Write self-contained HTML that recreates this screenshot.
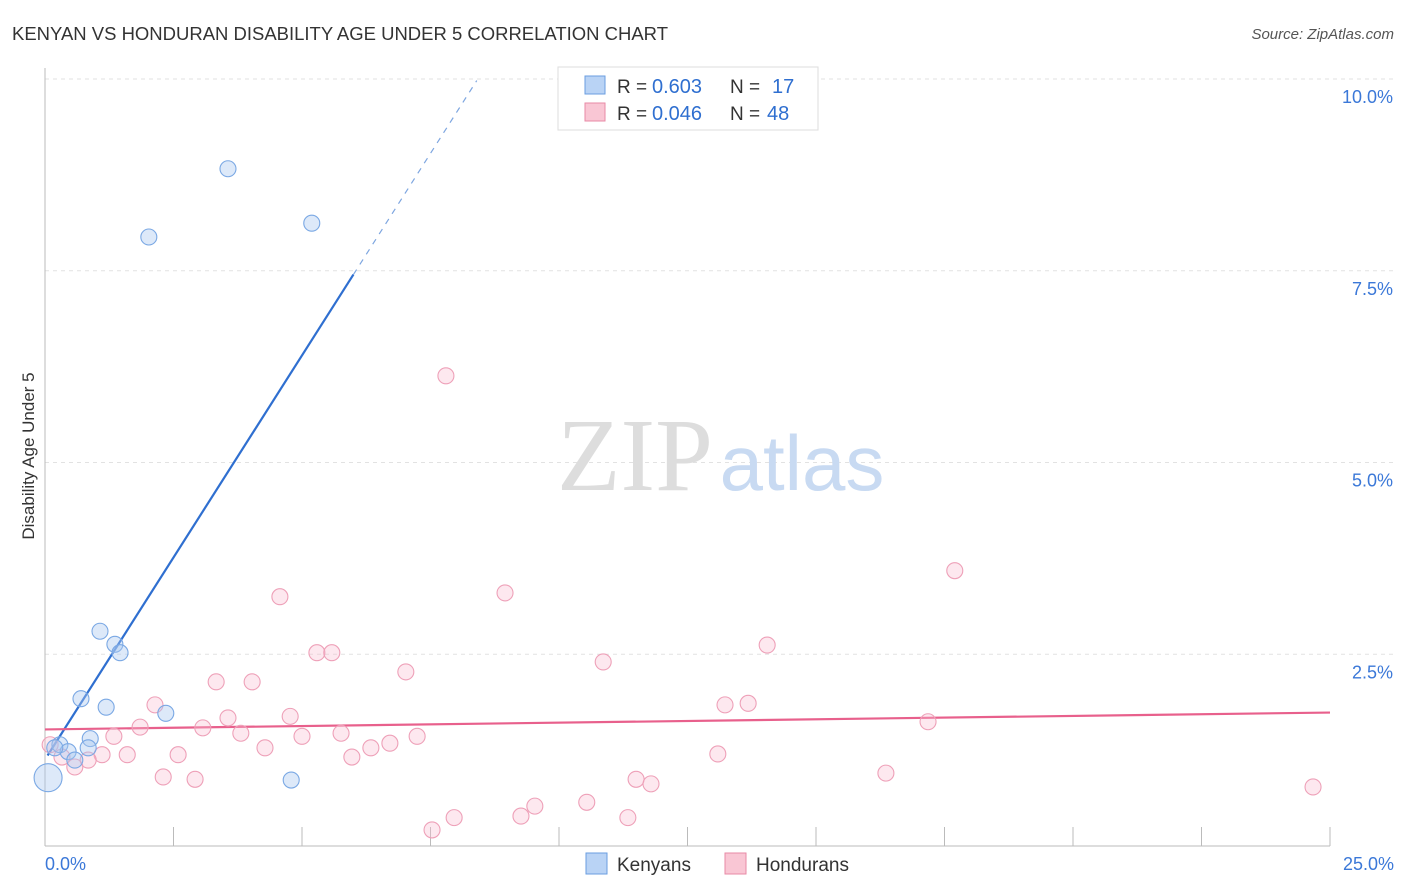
<!DOCTYPE html>
<html><head><meta charset="utf-8"><style>
body{margin:0;background:#fff;font-family:"Liberation Sans",sans-serif;}
svg{display:block}
</style></head><body>
<svg id="chart" width="1406" height="892">
<text x="12" y="40" font-size="18" fill="#333" textLength="656" lengthAdjust="spacingAndGlyphs">KENYAN VS HONDURAN DISABILITY AGE UNDER 5 CORRELATION CHART</text>
<text x="1394" y="39" font-size="15" fill="#555" font-style="italic" text-anchor="end">Source: ZipAtlas.com</text>
<text x="34" y="456" font-size="17" fill="#333" transform="rotate(-90 34 456)" text-anchor="middle">Disability Age Under 5</text>
<g id="grid"></g>
<g id="watermark">
<text x="635" y="490" font-size="104" fill="#ddd" font-family="Liberation Serif,serif" text-anchor="middle">ZIP</text>
<text x="802" y="490" font-size="78" fill="#c8daf2" text-anchor="middle">atlas</text>
</g>
<g id="lines"></g>
<g id="points"></g>
<g>
<rect x="558" y="67" width="260" height="63" fill="#fff" stroke="#ddd"/>
<rect x="585" y="76" width="20" height="18" fill="#b9d3f5" stroke="#6a9ee0"/>
<rect x="585" y="103" width="20" height="18" fill="#f9c6d4" stroke="#e88aa6"/>
<text x="617" y="93" font-size="19" fill="#333">R =</text>
<text x="652" y="93" font-size="20" fill="#2f6fd0">0.603</text>
<text x="730" y="93" font-size="19" fill="#333">N =</text>
<text x="772" y="93" font-size="20" fill="#2f6fd0">17</text>
<text x="617" y="120" font-size="19" fill="#333">R =</text>
<text x="652" y="120" font-size="20" fill="#2f6fd0">0.046</text>
<text x="730" y="120" font-size="19" fill="#333">N =</text>
<text x="767" y="120" font-size="20" fill="#2f6fd0">48</text>
</g>
<g>
<rect x="586" y="853" width="21" height="21" fill="#b9d3f5" stroke="#6a9ee0"/>
<text x="617" y="871" font-size="19" fill="#333">Kenyans</text>
<rect x="725" y="853" width="21" height="21" fill="#f9c6d4" stroke="#e88aa6"/>
<text x="756" y="871" font-size="19" fill="#333">Hondurans</text>
</g>
</svg>
<script>
const NS="http://www.w3.org/2000/svg";
const xTickLabels=["0.0%","25.0%"];
const yTicks=[2.5,5,7.5,10];
const yTickLabels=["2.5%","5.0%","7.5%","10.0%"];
const kenX=[3.56,2.02,5.19,1.07,1.36,1.46,0.70,1.19,2.35,0.88,0.84,0.29,0.45,0.58,4.79,0.06,0.19];
const kenY=[8.83,7.94,8.12,2.80,2.63,2.52,1.92,1.81,1.73,1.40,1.28,1.32,1.23,1.12,0.86,0.89,1.28];
const honX=[7.80,17.70,4.57,8.95,14.05,10.86,5.29,5.58,7.02,3.33,4.03,2.14,13.23,13.68,4.77,3.56,1.85,3.07,17.18,3.81,1.34,5.00,5.76,6.71,7.24,6.34,4.28,2.59,1.60,1.11,5.97,13.09,0.84,0.33,0.58,2.30,2.92,16.36,11.50,11.79,24.67,9.53,10.54,9.26,7.96,11.34,7.53,0.10];
const honY=[6.13,3.59,3.25,3.30,2.62,2.40,2.52,2.52,2.27,2.14,2.14,1.84,1.84,1.86,1.69,1.67,1.55,1.54,1.62,1.47,1.43,1.43,1.47,1.34,1.43,1.28,1.28,1.19,1.19,1.19,1.16,1.20,1.12,1.16,1.03,0.90,0.87,0.95,0.87,0.81,0.77,0.52,0.57,0.39,0.37,0.37,0.21,1.32];
const kenLine=[0.05,1.18,6.0,7.45];
const honLine=[0,1.52,25,1.74];
const X=v=>45+v*51.4, Y=v=>846-v*76.7;
const svg=document.getElementById('chart');
const grid=document.getElementById('grid');
function mk(tag,attrs,parent){const e=document.createElementNS(NS,tag);for(const k in attrs)e.setAttribute(k,attrs[k]);parent.appendChild(e);return e;}
yTicks.forEach((t,i)=>{
  const l=mk('line',{x1:45,x2:1394,y1:Y(t),y2:Y(t),stroke:'#e2e2e2','stroke-dasharray':'4,4'},grid);
  
  
  const tx=mk('text',{x:1393,y:Y(t)+24,'font-size':18,fill:'#3b78d8','text-anchor':'end'},grid);
  tx.textContent=yTickLabels[i];
  
  
});
mk('line',{x1:45,x2:45,y1:68,y2:846,stroke:'#bbb'},grid);
mk('line',{x1:45,x2:1330,y1:846,y2:846,stroke:'#bbb'},grid);
for(let i=0;i<=10;i++){const t=mk('line',{x1:X(i*2.5),x2:X(i*2.5),y1:827,y2:846,stroke:'#bbb'},grid);
  
  }
const xl0=mk('text',{x:45,y:870,'font-size':18,fill:'#3b78d8'},grid);xl0.textContent=xTickLabels[0];


const xl1=mk('text',{x:1394,y:870,'font-size':18,fill:'#3b78d8','text-anchor':'end'},grid);xl1.textContent=xTickLabels[1];


const pts=document.getElementById('points');
honX.forEach((x,i)=>{const c=mk('circle',{cx:X(x),cy:Y(honY[i]),r:8,fill:'rgba(249,190,208,0.35)',stroke:'#eea0b8','stroke-width':1.1},pts);
  
  });
kenX.forEach((x,i)=>{const c=mk('circle',{cx:X(x),cy:Y(kenY[i]),r:i==15?14:8,fill:'rgba(170,200,240,0.4)',stroke:'#7aa8e4','stroke-width':1.1},pts);
  
  });
const lines=document.getElementById('lines');
const slope=(kenLine[3]-kenLine[1])/(kenLine[2]-kenLine[0]);
const kl=mk('line',{x1:X(kenLine[0]),y1:Y(kenLine[1]),x2:X(kenLine[2]),y2:Y(kenLine[3]),stroke:'#2f6fd0','stroke-width':2.2},lines);


const xe=8.4;
const kd=mk('line',{x1:X(kenLine[2]),y1:Y(kenLine[3]),x2:X(xe),y2:Y(kenLine[3]+slope*(xe-kenLine[2])),stroke:'#7ea6e0','stroke-width':1.2,'stroke-dasharray':'6,6'},lines);


const hl=mk('line',{x1:X(honLine[0]),y1:Y(honLine[1]),x2:X(honLine[2]),y2:Y(honLine[3]),stroke:'#e8608c','stroke-width':2.2},lines);


</script>
</body></html>
